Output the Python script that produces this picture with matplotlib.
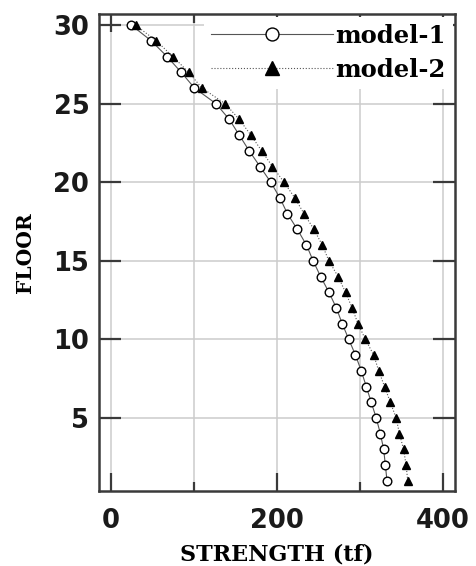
import numpy as np
import matplotlib
matplotlib.use("Agg")
import matplotlib.pyplot as plt
from matplotlib.ticker import MultipleLocator

# Storey strength per floor (tf)
floors = np.arange(1, 31)
model_1 = [333, 331, 329, 325, 320, 314, 308, 302, 295, 287,
           279, 272, 263, 253, 244, 236, 225, 213, 204, 193,
           180, 167, 155, 143, 127, 101, 85, 68, 49, 25]
model_2 = [358, 356, 353, 348, 344, 337, 330, 323, 317, 307,
           298, 291, 283, 274, 263, 255, 245, 233, 222, 209,
           195, 182, 169, 155, 138, 110, 94, 75, 55, 30]
labels = ["model-1", "model-2"]

slab = dict(family="DejaVu Serif", weight="bold")
spine_col = "#3a3a3a"

fig = plt.figure(figsize=(4.76, 5.66), dpi=100)
ax = fig.add_axes([0.208, 0.1325, 0.748, 0.8425])

ax.plot(model_1, floors, "-", color="#555555", lw=0.8, marker="o", ms=6.2,
        mfc="white", mec="black", mew=1.0, label=labels[0], zorder=3)
ax.plot(model_2, floors, ":", color="#555555", lw=0.8, marker="^", ms=6.4,
        mfc="black", mec="black", label=labels[1], zorder=3)

ax.set_xlim(-14, 415)
ax.set_ylim(0.35, 30.7)
ax.xaxis.set_major_locator(MultipleLocator(200))
ax.xaxis.set_minor_locator(MultipleLocator(100))
ax.set_yticks(range(5, 31, 5))

ax.grid(True, which="both", color="#cccccc", lw=1.1, zorder=0)
ax.set_axisbelow(True)

for s in ax.spines.values():
    s.set_linewidth(1.8)
    s.set_color(spine_col)

ax.tick_params(axis="both", which="both", direction="in", top=True, right=True,
               color=spine_col, width=1.6)
ax.tick_params(axis="x", which="major", length=13, pad=12)
ax.tick_params(axis="x", which="minor", length=6.5)
ax.tick_params(axis="y", which="major", length=16, pad=7)
for lab in ax.get_xticklabels() + ax.get_yticklabels():
    lab.set_fontfamily("DejaVu Sans")
    lab.set_fontweight("bold")
    lab.set_fontsize(18.5)
    lab.set_color("#1a1a1a")

ax.set_xlabel("STRENGTH (tf)", fontsize=16, labelpad=7, **slab)
ax.set_ylabel("FLOOR", fontsize=14.5, labelpad=13, **slab)

leg = ax.legend(loc="upper right", frameon=True, handlelength=5.0,
                markerscale=1.5, borderaxespad=0.1, borderpad=0.3,
                labelspacing=0.4, handletextpad=0.1,
                prop=dict(family="DejaVu Serif", weight="bold", size=17.5))
leg.get_frame().set_edgecolor("none")
leg.get_frame().set_facecolor("white")
leg.get_frame().set_alpha(1)

fig.savefig("out.png", dpi=100)
